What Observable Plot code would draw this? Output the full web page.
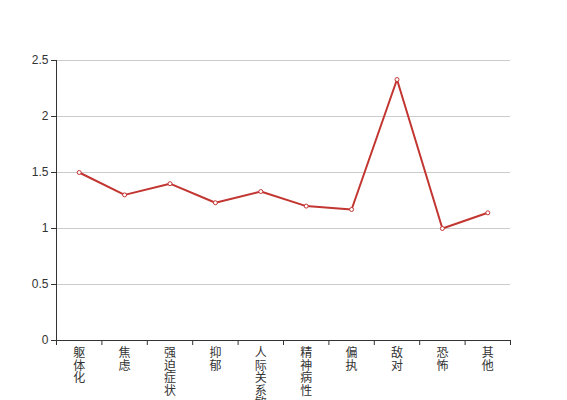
<!DOCTYPE html>
<html>
<head>
<meta charset="utf-8">
<script src="https://cdn.jsdelivr.net/npm/d3@7"></script>
<script src="https://cdn.jsdelivr.net/npm/@observablehq/plot@0.6"></script>
<style>
  html, body { margin: 0; padding: 0; background: #fff; }
  svg { font-family: "Liberation Sans", "Noto Sans CJK SC", sans-serif; }
</style>
</head>
<body>
<div id="chart"></div>
<script>
const categories = ["躯体化", "焦虑", "强迫症状", "抑郁", "人际关系敏感", "精神病性", "偏执", "敌对", "恐怖", "其他"];
const values = [1.50, 1.30, 1.40, 1.23, 1.33, 1.20, 1.17, 2.33, 1.00, 1.14];
const yTicks = [0, 0.5, 1, 1.5, 2, 2.5];

const data = categories.map((c, i) => ({cat: c, idx: i + 0.5, value: values[i]}));
const xBoundaries = d3.range(categories.length + 1);
const color = "#c23531";

const chart = Plot.plot({
  width: 567,
  height: 400,
  marginLeft: 56,
  marginRight: 57,
  marginTop: 60,
  marginBottom: 60,
  style: {fontSize: "12px", color: "#333", fontFamily: '"Liberation Sans", "Noto Sans CJK SC", sans-serif'},
  x: {type: "linear", domain: [0, categories.length]},
  y: {domain: [0, 2.5]},
  marks: [
    Plot.gridY(yTicks, {stroke: "#ccc", strokeOpacity: 1}),
    Plot.axisY(yTicks, {tickSize: 5, tickPadding: 3, tickFormat: d => String(d), label: null, stroke: "#333", fill: "#333"}),
    Plot.axisX(xBoundaries, {tickSize: 5, tickFormat: () => "", label: null, stroke: "#333"}),
    Plot.ruleY([0], {stroke: "#333"}),
    Plot.ruleX([0], {stroke: "#333"}),
    Plot.text(data, {x: "idx", y: 0, text: d => [...d.cat].join("\n"), dy: 8, lineAnchor: "top", fontSize: 12, lineHeight: 1.04, fill: "#333"}),
    Plot.line(data, {x: "idx", y: "value", stroke: color, strokeWidth: 2}),
    Plot.dot(data, {x: "idx", y: "value", r: 2, fill: "#fff", stroke: color, strokeWidth: 1})
  ]
});
document.getElementById("chart").appendChild(chart);
</script>
</body>
</html>
